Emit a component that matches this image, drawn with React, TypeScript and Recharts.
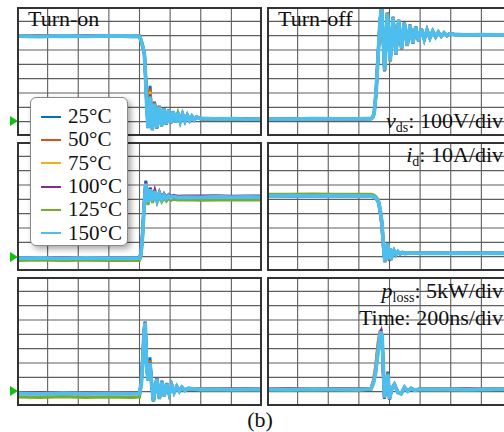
import React, { useMemo } from 'react';
import { LineChart, Line, XAxis, YAxis, CartesianGrid } from 'recharts';

const SERIES = ['25°C', '50°C', '75°C', '100°C', '125°C', '150°C'];
const COLORS = ['#0072BD', '#D95319', '#EDB120', '#7E2F8E', '#77AC30', '#4DBEEE'];

// time axis: 200 ns per division, 8 divisions
const X_TICKS = [0, 200, 400, 600, 800, 1000, 1200, 1400, 1600];
const V_TICKS = [-100, 0, 100, 200, 300, 400, 500, 600, 700, 800];
const I_TICKS = [-10, 0, 10, 20, 30, 40, 50, 60, 70, 80];
const P_TICKS = [-5, 0, 5, 10, 15, 20, 25, 30, 35, 40];

// turn-on v_ds (V)
const T_ON_V = [0, 150, 300, 450, 600, 750, 800, 812, 822, 832, 840, 848, 856, 869, 884, 898, 913, 929, 944, 959, 975, 990, 1005, 1020, 1036, 1051, 1066, 1081, 1097, 1112, 1127, 1142, 1158, 1173, 1200, 1300, 1400, 1500, 1600];
const ON_V_25 = [599, 596, 597, 598, 596, 598, 597, 565, 525, 480, 320, 110, -35, 250, -60, 140, -48, 112, -32, 96, -20, 85, -10, 74, -5, 63, 0, 54, 5, 46, 9, 39, 12, 33, 21, 20, 19, 20, 19];
const ON_V_50 = [596, 598, 595, 597, 599, 595, 596, 562, 522, 475, 310, 100, -40, 230, -58, 135, -45, 110, -30, 94, -19, 84, -10, 73, -4, 62, 1, 53, 6, 45, 10, 38, 13, 32, 20, 21, 20, 19, 21];
const ON_V_75 = [598, 595, 597, 596, 594, 597, 598, 561, 521, 472, 305, 95, -42, 210, -56, 130, -44, 108, -29, 93, -18, 83, -9, 72, -4, 62, 2, 53, 6, 45, 10, 38, 14, 32, 21, 18, 20, 21, 19];
const ON_V_100 = [595, 597, 594, 598, 596, 594, 595, 560, 519, 470, 302, 92, -44, 190, -54, 128, -43, 106, -28, 92, -18, 82, -9, 72, -3, 62, 1, 52, 5, 44, 10, 37, 13, 31, 19, 20, 18, 20, 18];
const ON_V_125 = [594, 596, 593, 595, 597, 593, 594, 558, 518, 468, 298, 88, -46, 180, -52, 124, -40, 104, -27, 90, -17, 81, -8, 71, -3, 61, 2, 52, 6, 44, 10, 37, 13, 31, 18, 17, 19, 17, 18];
const ON_V_150 = [597, 594, 599, 595, 598, 596, 595, 560, 520, 470, 300, 90, -45, 170, -55, 125, -42, 105, -28, 92, -18, 82, -9, 72, -4, 62, 1, 53, 5, 45, 10, 38, 13, 32, 22, 19, 21, 18, 20];

// turn-off v_ds (V)
const T_OFF_V = [0, 150, 300, 450, 600, 680, 690, 700, 712, 725, 738, 749, 768, 786, 805, 823, 842, 860, 879, 897, 916, 934, 953, 971, 990, 1008, 1027, 1045, 1064, 1082, 1101, 1119, 1138, 1156, 1175, 1193, 1230, 1300, 1400, 1500, 1600];
const OFF_V_25 = [21, 19, 20, 21, 19, 21, 28, 55, 190, 440, 690, 805, 350, 760, 420, 732, 468, 710, 507, 692, 530, 676, 547, 662, 562, 650, 574, 640, 584, 632, 591, 625, 596, 620, 600, 615, 609, 606, 606, 606, 605];
const OFF_V_50 = [19, 21, 20, 18, 21, 23, 33, 68, 215, 470, 715, 810, 355, 762, 418, 733, 466, 712, 505, 693, 528, 677, 546, 663, 560, 651, 573, 641, 583, 633, 590, 626, 595, 620, 600, 615, 607, 607, 605, 607, 604];
const OFF_V_75 = [20, 20, 19, 21, 20, 22, 31, 64, 208, 462, 708, 802, 352, 758, 421, 730, 469, 710, 508, 691, 531, 675, 548, 662, 562, 650, 574, 640, 584, 632, 591, 625, 596, 619, 601, 614, 608, 606, 606, 604, 606];
const OFF_V_100 = [18, 20, 22, 20, 19, 21, 29, 58, 198, 448, 698, 798, 358, 756, 424, 729, 471, 709, 509, 690, 531, 674, 549, 661, 563, 649, 575, 639, 585, 631, 592, 624, 597, 619, 601, 614, 607, 605, 607, 606, 605];
const OFF_V_125 = [19, 19, 20, 20, 21, 20, 29, 57, 195, 445, 695, 796, 362, 754, 426, 727, 473, 707, 511, 689, 533, 673, 550, 660, 564, 648, 576, 638, 586, 630, 593, 623, 598, 618, 602, 613, 606, 604, 606, 605, 606];
const OFF_V_150 = [20, 18, 21, 19, 20, 22, 30, 60, 200, 450, 700, 795, 360, 755, 425, 728, 472, 708, 510, 690, 532, 674, 549, 661, 563, 649, 575, 639, 585, 631, 592, 624, 597, 619, 601, 614, 608, 605, 607, 605, 606];

// turn-on i_d (A)
const T_ON_I = [0, 150, 300, 450, 600, 750, 800, 810, 820, 830, 841, 855, 870, 885, 900, 915, 930, 945, 960, 975, 990, 1005, 1020, 1050, 1100, 1200, 1300, 1400, 1500, 1600];
const ON_I_25 = [-1, -1.2, -0.9, -1, -0.8, -1.1, -0.9, 3, 17, 37, 53, 37, 48, 38.5, 46, 39, 44.5, 40, 43.2, 40.6, 42.6, 41.1, 42.1, 41.4, 41.7, 41.5, 41.6, 41.8, 41.5, 41.7];
const ON_I_50 = [-0.9, -1, -1.1, -1.2, -1, -0.9, -1, 2.5, 16, 36, 52, 37.5, 47.5, 39, 45.8, 39.3, 44.2, 40.1, 43.1, 40.6, 42.5, 41, 42, 41.5, 41.6, 41.7, 41.4, 41.6, 41.8, 41.5];
const ON_I_75 = [-1.1, -0.9, -1, -1, -1.2, -1, -1.1, 2.2, 15.5, 35.5, 51.5, 38, 47, 39, 45.6, 39.4, 44.1, 40, 43, 40.5, 42.4, 41, 42, 41.4, 41.5, 41.6, 41.5, 41.7, 41.4, 41.6];
const ON_I_100 = [-0.7, -0.5, -0.8, -0.6, -0.7, -0.6, -0.7, 2.3, 15.5, 35.5, 52, 39, 48, 40, 46.2, 40.3, 45, 41, 44, 41.5, 43.3, 42, 42.8, 42.2, 42.4, 42.3, 42.5, 42.2, 42.4, 42.3];
const ON_I_125 = [-2.6, -2.4, -2.7, -2.5, -2.6, -2.5, -2.6, 0.5, 13, 33, 49, 36, 45, 37.5, 43.5, 37.8, 42, 38.3, 41, 38.8, 40.5, 39.2, 40, 39.5, 39.7, 39.4, 39.6, 39.5, 39.7, 39.5];
const ON_I_150 = [-1, -0.8, -1.2, -0.9, -1.1, -1, -1, 2, 15, 35, 51, 38, 47, 39, 45.5, 39.5, 44, 40, 43, 40.5, 42.5, 41, 42, 41.3, 41.6, 41.4, 41.8, 41.5, 41.7, 41.6];

// turn-off i_d (A)
const T_OFF_I = [0, 150, 300, 450, 600, 680, 700, 715, 728, 740, 750, 758, 765, 770, 778, 788, 798, 808, 818, 830, 842, 855, 870, 885, 900, 950, 1000, 1100, 1200, 1300, 1400, 1500, 1600];
const OFF_I_25 = [42.3, 42.4, 42.5, 42.3, 42.4, 42.2, 41.6, 40, 37.5, 30, 21, 9, 0, -4, 4, 10, -3, 5.5, 0.5, 4.2, 1.2, 3.6, 1.8, 3.1, 2.1, 2.7, 2.3, 2.4, 2.5, 2.3, 2.5, 2.4, 2.3];
const OFF_I_50 = [42.5, 42.3, 42.4, 42.6, 42.3, 42.4, 41.7, 40.2, 38, 31, 22, 10, 1, -3.5, 3.5, 9.5, -2.5, 5.2, 0.8, 4.1, 1.4, 3.5, 1.9, 3, 2.2, 2.6, 2.4, 2.4, 2.3, 2.5, 2.4, 2.3, 2.5];
const OFF_I_75 = [42.4, 42.4, 42.3, 42.4, 42.5, 42.3, 41.7, 40.3, 38.2, 31.5, 23, 11, 1.5, -3.2, 3.2, 9.2, -2.2, 5.1, 0.9, 4, 1.5, 3.4, 2, 3, 2.2, 2.6, 2.4, 2.5, 2.4, 2.4, 2.3, 2.5, 2.4];
const OFF_I_100 = [42.6, 42.5, 42.7, 42.5, 42.6, 42.5, 42, 40.6, 38.6, 32, 24, 12, 2.5, -2.8, 3, 8.8, -2, 4.9, 1, 3.9, 1.6, 3.4, 2.1, 2.9, 2.3, 2.5, 2.4, 2.5, 2.4, 2.5, 2.4, 2.5, 2.4];
const OFF_I_125 = [43.6, 43.5, 43.7, 43.6, 43.5, 43.5, 43, 41.5, 39.5, 33, 25, 13, 3, -2.5, 2.8, 8.5, -1.8, 4.8, 1.1, 3.8, 1.6, 3.3, 2.1, 2.9, 2.3, 2.5, 2.4, 2.4, 2.5, 2.4, 2.5, 2.4, 2.5];
const OFF_I_150 = [42.4, 42.5, 42.3, 42.5, 42.4, 42.3, 41.8, 40.5, 38.5, 32, 24, 12, 2, -3, 3, 9, -2, 5, 1, 4, 1.5, 3.5, 2, 3, 2.2, 2.6, 2.3, 2.5, 2.4, 2.5, 2.3, 2.4, 2.4];

// turn-on p_loss (kW)
const T_ON_P = [0, 150, 300, 450, 600, 750, 800, 812, 822, 830, 837, 846, 856, 868, 880, 891, 913, 930, 946, 962, 978, 994, 1011, 1026, 1043, 1060, 1076, 1095, 1120, 1200, 1300, 1400, 1500, 1600];
const ON_P_25 = [-0.7, -0.6, -0.8, -0.6, -0.7, -0.6, -0.7, 3.5, 13, 22, 24.5, 10, 5, 12, 2.5, -3.5, 5, -2.6, 3.8, -1.6, 3, -0.8, 2.3, -0.3, 1.9, 0.1, 1.6, 0.4, 1.2, 0.8, 0.8, 0.9, 0.7, 0.8];
const ON_P_50 = [-0.6, -0.7, -0.6, -0.8, -0.5, -0.7, -0.6, 3.2, 12.5, 21.5, 24.2, 9.5, 4.5, 11, 2.3, -3.4, 4.8, -2.5, 3.7, -1.5, 2.9, -0.8, 2.2, -0.2, 1.8, 0.2, 1.5, 0.5, 1.1, 0.8, 0.9, 0.8, 0.8, 0.7];
const ON_P_75 = [-0.7, -0.6, -0.7, -0.6, -0.7, -0.6, -0.7, 3.1, 12.2, 21.2, 24, 9.3, 4.3, 10.5, 2.2, -3.3, 4.6, -2.4, 3.6, -1.5, 2.8, -0.7, 2.2, -0.2, 1.8, 0.2, 1.5, 0.5, 1.1, 0.8, 0.8, 0.8, 0.9, 0.8];
const ON_P_100 = [-0.4, -0.5, -0.3, -0.5, -0.4, -0.5, -0.4, 3.2, 12.2, 21, 23.8, 9.2, 4.2, 10.3, 2.4, -3.1, 4.6, -2.2, 3.6, -1.3, 2.9, -0.6, 2.3, -0.1, 1.9, 0.3, 1.6, 0.6, 1.2, 0.9, 1, 0.9, 1, 0.9];
const ON_P_125 = [-1.9, -2, -1.8, -2, -1.9, -2, -1.9, 2, 11, 20, 23.5, 8.8, 3.8, 9.5, 1.8, -3.5, 4.2, -2.5, 3.3, -1.6, 2.6, -0.9, 2, -0.4, 1.6, 0, 1.3, 0.3, 0.9, 0.6, 0.7, 0.6, 0.7, 0.6];
const ON_P_150 = [-0.6, -0.8, -0.5, -0.7, -0.6, -0.7, -0.6, 3, 12, 21, 24, 9, 4, 10, 2, -3.2, 4.5, -2.3, 3.5, -1.4, 2.8, -0.7, 2.2, -0.2, 1.8, 0.2, 1.5, 0.5, 1.1, 0.8, 0.9, 0.7, 0.8, 0.8];

// turn-off p_loss (kW)
const T_OFF_P = [0, 150, 300, 450, 600, 680, 695, 710, 725, 738, 745, 752, 760, 767, 778, 789, 800, 815, 832, 855, 876, 898, 919, 941, 963, 1000, 1100, 1200, 1300, 1400, 1500, 1600];
const OFF_P_25 = [0.8, 0.9, 0.7, 0.8, 0.9, 1.1, 3.5, 8, 15.5, 20.5, 21.5, 18, 6, -2.5, 2.5, 7, -2.8, 1.2, 2.7, -0.2, -0.8, 1.6, 0.2, 1.2, 0.5, 0.9, 0.8, 0.8, 0.8, 0.7, 0.8, 0.8];
const OFF_P_50 = [0.7, 0.8, 0.8, 0.9, 0.8, 1.2, 4, 9, 17, 21, 21.2, 17, 5, -2.2, 2.2, 6.5, -2.6, 1.1, 2.6, -0.3, -0.7, 1.5, 0.2, 1.2, 0.5, 0.9, 0.8, 0.7, 0.8, 0.8, 0.8, 0.9];
const OFF_P_75 = [0.8, 0.8, 0.7, 0.8, 0.8, 1.1, 3.6, 8.5, 16, 20.8, 21.1, 17.5, 6, -2, 2.1, 6.2, -2.5, 1, 2.5, -0.3, -0.6, 1.4, 0.3, 1.1, 0.6, 0.8, 0.8, 0.8, 0.8, 0.8, 0.8, 0.8];
const OFF_P_100 = [0.9, 1, 0.9, 1, 0.9, 1, 3.2, 7.5, 14.8, 20, 21, 18.5, 7, -2, 2, 6, -2.4, 1, 2.4, -0.2, -0.6, 1.4, 0.3, 1.1, 0.6, 0.9, 0.9, 0.9, 1, 0.9, 1, 0.9];
const OFF_P_125 = [0.6, 0.5, 0.7, 0.6, 0.5, 0.8, 2.8, 6.8, 13.5, 19, 20.6, 19, 8.5, -1.8, 1.9, 5.8, -2.3, 0.9, 2.3, -0.4, -0.7, 1.3, 0.2, 1.1, 0.5, 0.7, 0.6, 0.6, 0.7, 0.6, 0.7, 0.6];
const OFF_P_150 = [0.8, 0.7, 0.9, 0.8, 0.7, 1, 3, 7, 14, 19.5, 21, 19, 8, -2, 2, 6, -2.5, 1, 2.5, -0.3, -0.7, 1.5, 0.2, 1.2, 0.5, 0.9, 0.8, 0.8, 0.7, 0.8, 0.9, 0.8];

const FONT = '"Liberation Serif", "DejaVu Serif", serif';
const PANEL_W = 245;
const PANEL_H = 129;

interface PanelProps {
  left: number;
  top: number;
  time: number[];
  values: number[][];
  ticks: number[];
}

// grid lines placed through the chart's own axis scales
type GridArgs = { xAxis?: any; yAxis?: any; offset?: any };

const Panel = ({ left, top, time, values, ticks }: PanelProps) => {
  const data = useMemo(
    () =>
      time.map((t, i) => {
        const row: Record<string, number> = { t };
        values.forEach((v, k) => {
          row[`s${k}`] = v[i];
        });
        return row;
      }),
    [time, values]
  );

  const yMin = ticks[0];
  const yMax = ticks[ticks.length - 1];

  const vGen = ({ xAxis, offset }: GridArgs) =>
    X_TICKS.map((t) =>
      xAxis && typeof xAxis.scale === 'function'
        ? xAxis.scale(t)
        : offset.left + (t / 1600) * offset.width
    );
  const hGen = ({ yAxis, offset }: GridArgs) =>
    ticks.map((v) =>
      yAxis && typeof yAxis.scale === 'function'
        ? yAxis.scale(v)
        : offset.top + ((yMax - v) / (yMax - yMin)) * offset.height
    );

  return (
    <div style={{ position: 'absolute', left, top, width: PANEL_W, height: PANEL_H }}>
      <LineChart width={PANEL_W} height={PANEL_H} data={data} margin={{ top: 0, right: 0, bottom: 0, left: 0 }}>
        <CartesianGrid
          stroke="#5e5e5e"
          strokeWidth={1.1}
          verticalCoordinatesGenerator={vGen}
          horizontalCoordinatesGenerator={hGen}
        />
        <XAxis type="number" dataKey="t" domain={[0, 1600]} ticks={X_TICKS} hide allowDataOverflow />
        <YAxis type="number" domain={[yMin, yMax]} ticks={ticks} hide allowDataOverflow />
        {values.map((_, k) => (
          <Line
            key={SERIES[k]}
            type="linear"
            dataKey={`s${k}`}
            stroke={COLORS[k]}
            strokeWidth={k === 5 ? 3.8 : 3}
            dot={false}
            isAnimationActive={false}
          />
        ))}
      </LineChart>
      <div
        style={{
          position: 'absolute',
          inset: 0,
          border: '2px solid #333',
          boxSizing: 'border-box',
          pointerEvents: 'none',
        }}
      />
    </div>
  );
};

const Marker = ({ y }: { y: number }) => (
  <svg style={{ position: 'absolute', left: 10, top: y - 5 }} width={8} height={10}>
    <polygon points="0,0 8,5 0,10" fill="#10C010" />
  </svg>
);

const label: React.CSSProperties = {
  position: 'absolute',
  fontFamily: FONT,
  fontSize: 22,
  lineHeight: 1,
  whiteSpace: 'nowrap',
  color: '#111',
};

const sub: React.CSSProperties = { fontSize: 14, verticalAlign: -4, lineHeight: 0 };

export default function App() {
  return (
    <div
      style={{
        position: 'absolute',
        left: 0,
        top: 0,
        width: 504,
        height: 432,
        overflow: 'hidden',
        background: '#fff',
      }}
    >
      <Panel left={17} top={7} time={T_ON_V} values={[ON_V_25, ON_V_50, ON_V_75, ON_V_100, ON_V_125, ON_V_150]} ticks={V_TICKS} />
      <Panel left={267} top={7} time={T_OFF_V} values={[OFF_V_25, OFF_V_50, OFF_V_75, OFF_V_100, OFF_V_125, OFF_V_150]} ticks={V_TICKS} />
      <Panel left={17} top={142} time={T_ON_I} values={[ON_I_25, ON_I_50, ON_I_75, ON_I_100, ON_I_125, ON_I_150]} ticks={I_TICKS} />
      <Panel left={267} top={142} time={T_OFF_I} values={[OFF_I_25, OFF_I_50, OFF_I_75, OFF_I_100, OFF_I_125, OFF_I_150]} ticks={I_TICKS} />
      <Panel left={17} top={277} time={T_ON_P} values={[ON_P_25, ON_P_50, ON_P_75, ON_P_100, ON_P_125, ON_P_150]} ticks={P_TICKS} />
      <Panel left={267} top={277} time={T_OFF_P} values={[OFF_P_25, OFF_P_50, OFF_P_75, OFF_P_100, OFF_P_125, OFF_P_150]} ticks={P_TICKS} />

      <Marker y={121} />
      <Marker y={256.5} />
      <Marker y={391} />

      <span style={{ ...label, left: 28, top: 8 }}>Turn-on</span>
      <span style={{ ...label, left: 278, top: 8 }}>Turn-off</span>
      <span style={{ ...label, right: 1, top: 110 }}>
        <i>v</i>
        <span style={sub}>ds</span>: 100V/div
      </span>
      <span style={{ ...label, right: 1, top: 144 }}>
        <i>i</i>
        <span style={sub}>d</span>: 10A/div
      </span>
      <span style={{ ...label, right: 1, top: 280 }}>
        <i>p</i>
        <span style={sub}>loss</span>: 5kW/div
      </span>
      <span style={{ ...label, right: 1, top: 307 }}>Time: 200ns/div</span>
      <span style={{ ...label, left: 240, width: 40, textAlign: 'center', top: 409 }}>(b)</span>

      <div
        style={{
          position: 'absolute',
          left: 30,
          top: 97,
          width: 98,
          height: 149,
          boxSizing: 'border-box',
          background: '#fff',
          border: '1px solid #8a8a8a',
          borderRadius: 6,
          boxShadow: '3px 3px 6px rgba(0,0,0,0.35)',
          paddingTop: 7,
        }}
      >
        {SERIES.map((name, k) => (
          <div key={name} style={{ display: 'flex', alignItems: 'center', height: 23.3 }}>
            <div style={{ width: 20, height: 2, background: COLORS[k], marginLeft: 10, marginRight: 7 }} />
            <span style={{ fontFamily: FONT, fontSize: 21, lineHeight: 1, color: '#111' }}>{name}</span>
          </div>
        ))}
      </div>
    </div>
  );
}
